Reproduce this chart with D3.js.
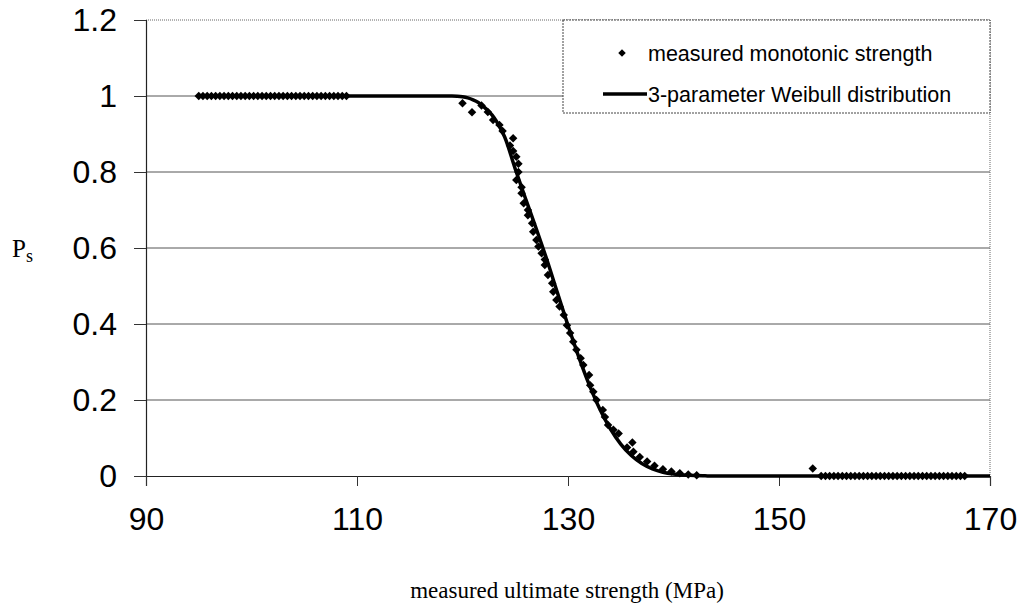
<!DOCTYPE html>
<html>
<head>
<meta charset="utf-8">
<script src="https://cdn.jsdelivr.net/npm/d3@7/dist/d3.min.js"></script>
<style>
  html, body { margin: 0; padding: 0; background: #fff; }
  svg { display: block; }
</style>
</head>
<body>
<svg id="chart" width="1023" height="611"></svg>
<script>
// Measured monotonic strength (MPa) and survival probability Ps
const measuredX = [
  95.0, 95.4, 95.8, 96.2, 96.6, 97.0, 97.4, 97.8, 98.2, 98.6, 99.0, 99.4,
  99.8, 100.2, 100.6, 101.0, 101.4, 101.8, 102.2, 102.6, 103.0, 103.4, 103.8, 104.2,
  104.6, 105.0, 105.4, 105.8, 106.2, 106.6, 107.0, 107.4, 107.8, 108.2, 108.6, 109.0,
  120.0, 120.9, 121.8, 122.4, 122.9, 123.5, 123.8, 124.8, 124.5, 124.8, 125.1, 125.3,
  125.3, 125.1, 125.6, 125.6, 125.8, 126.2, 126.2, 126.6, 126.7, 127.0, 127.2, 127.5,
  127.8, 127.8, 128.1, 128.5, 128.6, 128.9, 129.2, 129.6, 129.9, 130.2, 130.5, 130.8,
  131.2, 131.45, 132.0, 132.1, 132.4, 132.7, 133.3, 133.5, 133.8, 134.3, 134.8, 136.1,
  135.6, 136.2, 136.8, 137.5, 138.2, 139.0, 139.8, 140.6, 141.4, 142.2, 153.2,
  154.0, 154.4, 154.8, 155.2, 155.6, 156.0, 156.4, 156.8, 157.2, 157.6, 158.0, 158.4,
  158.8, 159.2, 159.6, 160.0, 160.4, 160.8, 161.2, 161.6, 162.0, 162.4, 162.8, 163.2,
  163.6, 164.0, 164.4, 164.8, 165.2, 165.6, 166.0, 166.4, 166.8, 167.2, 167.6
];
const measuredPs = [
  1, 1, 1, 1, 1, 1, 1, 1, 1, 1, 1, 1,
  1, 1, 1, 1, 1, 1, 1, 1, 1, 1, 1, 1,
  1, 1, 1, 1, 1, 1, 1, 1, 1, 1, 1, 1,
  0.981, 0.957, 0.975, 0.958, 0.937, 0.924, 0.908, 0.889, 0.870, 0.855, 0.840, 0.822,
  0.800, 0.779, 0.760, 0.744, 0.718, 0.700, 0.686, 0.665, 0.643, 0.621, 0.604, 0.586,
  0.570, 0.555, 0.529, 0.507, 0.485, 0.463, 0.446, 0.424, 0.397, 0.376, 0.353, 0.332,
  0.310, 0.292, 0.266, 0.239, 0.222, 0.200, 0.174, 0.155, 0.134, 0.122, 0.112, 0.088,
  0.075, 0.064, 0.050, 0.038, 0.027, 0.018, 0.012, 0.007, 0.004, 0.002, 0.020,
  0, 0, 0, 0, 0, 0, 0, 0, 0, 0, 0, 0,
  0, 0, 0, 0, 0, 0, 0, 0, 0, 0, 0, 0,
  0, 0, 0, 0, 0, 0, 0, 0, 0, 0, 0
];

// 3-parameter Weibull survival curve, sampled points
const weibullX = [
  95, 119, 119.5, 120, 120.5, 121, 121.5, 122, 122.5, 123, 123.5, 124,
  125, 126, 127, 128, 129, 130, 131, 132, 133, 134, 135, 136,
  137, 138, 139, 140, 141, 142, 143, 144, 170
];
const weibullPs = [
  1, 1, 0.9995, 0.998, 0.995, 0.99, 0.983, 0.972, 0.959, 0.943, 0.920, 0.892,
  0.808, 0.728, 0.650, 0.569, 0.482, 0.396, 0.315, 0.241, 0.177, 0.125, 0.084, 0.054,
  0.033, 0.019, 0.010, 0.005, 0.0025, 0.001, 0.0004, 0, 0
];

const xTicks = [90, 110, 130, 150, 170];
const yTicks = [0, 0.2, 0.4, 0.6, 0.8, 1, 1.2];
const yTickLabels = ["0", "0.2", "0.4", "0.6", "0.8", "1", "1.2"];

const legendLabels = ["measured monotonic strength", "3-parameter Weibull distribution"];
const xTitle = "measured ultimate strength (MPa)";

const svg = d3.select("#chart");
const sans = "'Liberation Sans', Arial, sans-serif";
const serif = "'Liberation Serif', 'Times New Roman', serif";

const plot = { left: 146, right: 990, top: 20, bottom: 476 };
const x = d3.scaleLinear().domain([90, 170]).range([plot.left, plot.right]);
const y = d3.scaleLinear().domain([0, 1.2]).range([plot.bottom, plot.top]);

// horizontal grid lines
svg.append("g")
  .selectAll("line")
  .data(yTicks.filter(v => v > 0 && v < 1.2))
  .join("line")
  .attr("x1", plot.left).attr("x2", plot.right)
  .attr("y1", d => y(d)).attr("y2", d => y(d))
  .attr("stroke", "#555").attr("stroke-width", 1);

// dotted frame on top and right
svg.append("path")
  .attr("d", `M${plot.left},${y(1.2)}H${x(170)}V${plot.bottom}`)
  .attr("fill", "none").attr("stroke", "#666")
  .attr("stroke-width", 1).attr("stroke-dasharray", "1,1");

// axes
const yAxis = svg.append("g")
  .attr("transform", `translate(${plot.left},0)`)
  .call(d3.axisLeft(y).tickValues(yTicks).tickSize(12).tickPadding(17)
    .tickFormat((d, i) => yTickLabels[i]));
const xAxis = svg.append("g")
  .attr("transform", `translate(0,${plot.bottom})`)
  .call(d3.axisBottom(x).tickValues(xTicks).tickSize(10).tickPadding(21)
    .tickFormat(d3.format("d")));

[yAxis, xAxis].forEach(g => {
  g.select(".domain").attr("stroke", "#222").attr("stroke-width", 1.2);
  g.selectAll(".tick line").attr("stroke", "#333").attr("stroke-width", 1);
  g.selectAll(".tick text")
    .attr("fill", "#000")
    .style("font-family", sans)
    .style("font-size", "32px");
});
xAxis.selectAll(".tick text").attr("dy", "0.71em");

// Weibull curve
const line = d3.line()
  .x((d, i) => x(weibullX[i]))
  .y((d, i) => y(weibullPs[i]))
  .curve(d3.curveMonotoneX);
svg.append("path")
  .datum(weibullX)
  .attr("d", line)
  .attr("fill", "none")
  .attr("stroke", "#000")
  .attr("stroke-width", 3.5)
  .attr("stroke-linejoin", "round");

// square diamond marker
const diamond = {
  draw(ctx, size) {
    const r = Math.sqrt(size / 2);
    ctx.moveTo(0, -r); ctx.lineTo(r, 0); ctx.lineTo(0, r); ctx.lineTo(-r, 0); ctx.closePath();
  }
};
const marker = d3.symbol().type(diamond).size(36);

svg.append("g")
  .selectAll("path")
  .data(measuredX)
  .join("path")
  .attr("transform", (d, i) => `translate(${x(d)},${y(measuredPs[i])})`)
  .attr("d", marker)
  .attr("fill", "#000");

// legend
const lg = svg.append("g");
lg.append("rect")
  .attr("x", 563).attr("y", 20).attr("width", 427).attr("height", 93)
  .attr("fill", "#fff").attr("stroke", "#444").attr("stroke-width", 1)
  .attr("stroke-dasharray", "2,1");
lg.append("path")
  .attr("transform", "translate(622,53)")
  .attr("d", d3.symbol().type(diamond).size(28))
  .attr("fill", "#000");
lg.append("line")
  .attr("x1", 603).attr("x2", 647).attr("y1", 94).attr("y2", 94)
  .attr("stroke", "#000").attr("stroke-width", 3.5);
lg.selectAll("text")
  .data(legendLabels)
  .join("text")
  .attr("x", 648)
  .attr("y", (d, i) => i === 0 ? 53 : 94)
  .attr("dy", "0.35em")
  .style("font-family", sans)
  .style("font-size", "21.5px")
  .text(d => d);

// axis titles
const yLabel = svg.append("text")
  .attr("x", 12).attr("y", 257)
  .style("font-family", serif)
  .style("font-size", "25px");
yLabel.append("tspan").text("P");
yLabel.append("tspan").attr("dy", 5).style("font-size", "18px").text("s");

svg.append("text")
  .attr("x", 567).attr("y", 598)
  .attr("text-anchor", "middle")
  .style("font-family", serif)
  .style("font-size", "23px")
  .text(xTitle);
</script>
</body>
</html>
